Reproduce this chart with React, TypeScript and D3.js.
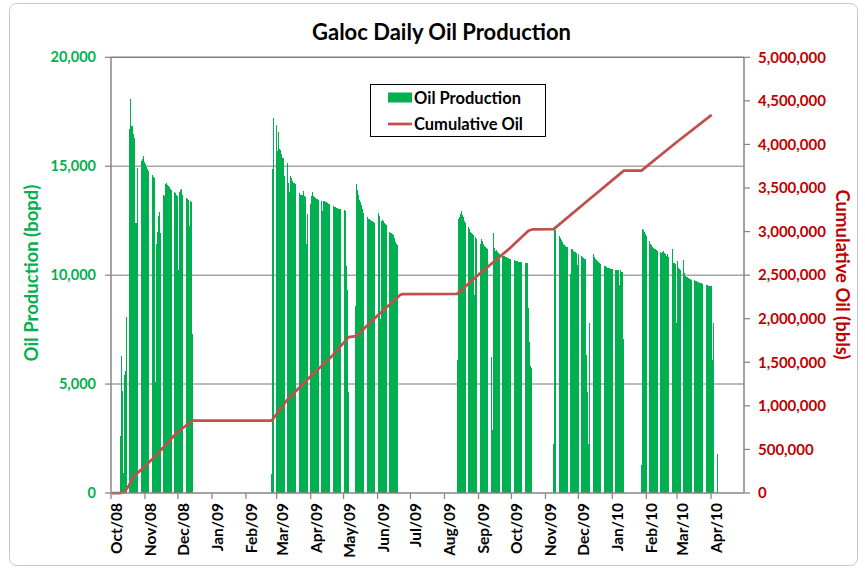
import React from "react";
import * as d3 from "d3";

// ---------- data ----------
const axisStart = "2008-10-01";
const axisEnd = "2010-05-01";

const leftTicks = [0, 5000, 10000, 15000, 20000];
const rightTicks = [0, 500000, 1000000, 1500000, 2000000, 2500000, 3000000, 3500000, 4000000, 4500000, 5000000];

// daily oil production (bopd), one value per day from each start date
const prodStarts = ["2008-10-09", "2009-02-24", "2009-05-11", "2009-08-12", "2009-11-08", "2010-01-27"];

const prodOct08 = [
  2600, 6300, 4700, 900, 5400, 5600, 8100, 3900, 16700, 18100, 16850, 16850, 16500, 16300, 12400, 12400,
  14900, 15000, 15150, 15250, 15350, 15450, 15200, 15100, 14950, 14850, 14800, 14700, 14650, 14600, 14500,
  14450, 5100, 11450, 12000, 12700, 12900, 11950, 13750, 13700, 13650, 14200, 14250, 14150, 14100, 14050,
  13950, 13900, 13850, 13800, 13750, 13700, 13650, 10250, 13800, 13900, 13950, 13700, 12500, 13650, 13550,
  13500, 13450, 12250, 13400, 13350, 7300,
];

const prodFeb09 = [
  860, 14850, 17200, 17000, 16900, 15700, 16550, 15800, 15750, 15550, 15400, 15400, 14550, 15150, 15150,
  14250, 13800, 14550, 14450, 14300, 14250, 14250, 14200, 13800, 13780, 13750, 13700, 13700, 13690, 13850,
  13650, 13600, 11450, 12800, 13850, 13250, 13650, 13800, 13650, 13600, 13550, 13500, 13480, 13450, 13480,
  13420, 12950, 13420, 13400, 13380, 13350, 13320, 13280, 13250, 13230, 13200, 13180, 13150, 13120, 13100,
  13060, 13050, 13030, 13020, 13000, 12980, 12970, 12950, 10400, 9300, 4650,
];

const prodMay09 = [
  8600, 14200, 13900, 13700, 13450, 13350, 13200, 13050, 12850, 12750, 12700, 12650, 12600, 12580, 12520,
  12500, 12480, 12450, 12400, 3600, 13150, 12850, 12700, 8000, 12500, 12550, 12500, 12400, 12350, 12300,
  11450, 12000, 11950, 11950, 11900, 11850, 11700, 11500, 11450, 11400, 700,
];

const prodAug09 = [
  6100, 12600, 12650, 12800, 12950, 12750, 12650, 12500, 12400, 12300, 12200, 12100, 12000, 11950, 11900,
  11850, 9100, 11750, 11680, 11600, 11100, 11450, 11650, 11550, 11450, 11350, 11300, 11250, 11200, 11180,
  11150, 6250, 2900, 11950, 11250, 11100, 11150, 11050, 11000, 10950, 10400, 10950, 10900, 10880, 10850,
  10820, 10800, 10780, 10750, 10720, 10700, 10690, 10680, 10670, 10650, 10640, 10620, 10610, 10600, 10590,
  10580, 10570, 10560, 10550, 10550, 8500, 6950, 5850, 5750,
];

const prodNov09 = [
  2250, 12100, 12050, 11950, 11850, 11780, 11700, 11600, 11500, 11450, 11400, 11350, 11300, 11280, 11250,
  10050, 11220, 11180, 11120, 11080, 11050, 11000, 10450, 10950, 10900, 10870, 10830, 10790, 10750, 10720,
  6350, 4650, 2250, 7800, 11350, 11100, 10950, 10850, 10720, 10680, 10650, 10600, 10560, 10500, 10480,
  10450, 10420, 10400, 10380, 10350, 10340, 10320, 10300, 10280, 10270, 10260, 10250, 10240, 10230, 10230,
  9570, 10230, 10150, 10150, 7050,
];

const prodJan10 = [
  1300, 12100, 12050, 11980, 11900, 11800, 11650, 11550, 11450, 11370, 11300, 11260, 11220, 11180, 11150,
  11100, 11070, 11040, 11000, 11070, 11100, 11020, 10950, 10900, 10950, 10850, 10840, 6600, 11200, 10570,
  10550, 10520, 7800, 10650, 10340, 10300, 10250, 3800, 10700, 10100, 9950, 9930, 9900, 9870, 9840, 9820,
  9800, 9780, 9760, 9740, 9720, 9700, 9680, 9660, 9640, 9620, 9600, 9580, 9560, 9540, 9530, 9520, 9510,
  9500, 9480, 6100, 7800, 5250, 3450, 1800,
];

const prodSeries = [prodOct08, prodFeb09, prodMay09, prodAug09, prodNov09, prodJan10];

// cumulative oil (bbls): breakpoints, day offset from axisStart
const cumDays = [0, 8, 12, 16, 20, 30, 38, 50, 60, 74, 146, 160, 181, 202, 216, 223, 242, 263, 265, 315, 336, 363, 380, 384, 403, 435, 467, 483, 515, 547];
const cumValues = [0, 0, 15000, 90000, 190000, 300000, 400000, 560000, 700000, 830000, 830000, 1067000, 1335000, 1584000, 1790000, 1800000, 2031000, 2272000, 2282000, 2285000, 2521000, 2808000, 3010000, 3026000, 3028000, 3365000, 3699000, 3700000, 4025000, 4340000];

// ---------- chart ----------
const W = 865;
const H = 569;
const M = { left: 111, right: 744, top: 57.3, bottom: 493 };
const FONT = "Lato, 'Open Sans', 'Noto Sans', sans-serif";
const GREEN = "#00B050";
const DARKRED = "#C00000";
const LINE = "#C0504D";

export default function App() {
  const parse = d3.utcParse("%Y-%m-%d");
  const t0 = parse(axisStart)!;
  const t1 = parse(axisEnd)!;
  const x = d3.scaleUtc().domain([t0, t1]).range([M.left, M.right]);
  const yL = d3.scaleLinear().domain([0, 20000]).range([M.bottom, M.top]);
  const yR = d3.scaleLinear().domain([0, 5000000]).range([M.bottom, M.top]);
  const months = d3.utcMonth.range(t0, t1);
  const fmt = d3.format(",");
  const monthFmt = d3.utcFormat("%b/%y");

  const bars: { x: number; w: number; y: number; h: number; key: string }[] = [];
  prodSeries.forEach((vals, si) => {
    const s = parse(prodStarts[si])!;
    vals.forEach((v, i) => {
      const d = d3.utcDay.offset(s, i);
      const xa = x(d);
      const xb = x(d3.utcDay.offset(d, 1));
      const slot = xb - xa;
      const bw = slot * 0.78;
      bars.push({ x: xa + (slot - bw) / 2, w: bw, y: yL(v), h: yL(0) - yL(v), key: `${si}-${i}` });
    });
  });

  const cumPts: [number, number][] = cumDays.map((d, i) => {
    const dt = d3.utcDay.offset(t0, d);
    const xa = x(dt);
    const slot = x(d3.utcDay.offset(dt, 1)) - xa;
    return [xa + slot / 2, yR(cumValues[i])];
  });
  const linePath = d3.line()(cumPts) || "";

  const gridVals = leftTicks.filter((v) => v > 0 && v < 20000);

  return (
    <svg width={W} height={H} style={{ display: "block", position: "absolute", left: 0, top: 0 }} fontFamily={FONT}>
      <rect x={0} y={0} width={W} height={H} fill="#fff" />
      <rect x={9.5} y={3.5} width={848} height={562} rx={7} fill="#fff" stroke="#c8c8c8" strokeWidth={1} />

      {/* title */}
      <text x={441.5} y={40} textAnchor="middle" fontSize={22} fontWeight="bold" fill="#000">
        Galoc Daily Oil Production
      </text>

      {/* gridlines */}
      {gridVals.map((v) => (
        <line key={v} x1={M.left} x2={M.right} y1={yL(v)} y2={yL(v)} stroke="#a6a6a6" strokeWidth={1.5} />
      ))}
      <line x1={M.left} x2={M.right} y1={M.top} y2={M.top} stroke="#7f7f7f" strokeWidth={1.5} />

      {/* bars */}
      <g shapeRendering="crispEdges" fill={GREEN}>
        {bars.map((b) => (
          <rect key={b.key} x={b.x} y={b.y} width={b.w} height={b.h} />
        ))}
      </g>

      {/* cumulative line */}
      <path d={linePath} fill="none" stroke={LINE} strokeWidth={2.75} strokeLinejoin="round" />

      {/* axes lines */}
      <line x1={M.left} x2={M.left} y1={M.top} y2={M.bottom} stroke="#868686" strokeWidth={1.5} />
      <line x1={M.right} x2={M.right} y1={M.top} y2={M.bottom} stroke="#868686" strokeWidth={1.5} />
      <line x1={M.left} x2={M.right} y1={M.bottom} y2={M.bottom} stroke="#868686" strokeWidth={1.5} />

      {/* left ticks */}
      {leftTicks.map((v) => (
        <g key={v}>
          <line x1={M.left - 6} x2={M.left} y1={yL(v)} y2={yL(v)} stroke="#868686" strokeWidth={1.25} />
          <text x={96} y={yL(v)} dy="0.35em" textAnchor="end" fontSize={14.5} fontWeight="bold" fill={GREEN}>
            {fmt(v)}
          </text>
        </g>
      ))}

      {/* right ticks */}
      {rightTicks.map((v) => (
        <g key={v}>
          <line x1={M.right} x2={M.right + 6} y1={yR(v)} y2={yR(v)} stroke="#868686" strokeWidth={1.25} />
          <text x={758} y={yR(v)} dy="0.35em" textAnchor="start" fontSize={15} fontWeight="bold" fill={DARKRED}>
            {fmt(v)}
          </text>
        </g>
      ))}

      {/* x ticks and labels */}
      {months.map((m) => {
        const xm = x(m);
        return (
          <g key={+m}>
            <line x1={xm} x2={xm} y1={M.bottom} y2={M.bottom + 6} stroke="#868686" strokeWidth={1.25} />
            <text
              transform={`translate(${xm + 5.5},503) rotate(-90)`}
              textAnchor="end"
              dy="0.35em"
              fontSize={15.5}
              fontWeight="bold"
              fill="#000"
            >
              {monthFmt(m)}
            </text>
          </g>
        );
      })}

      {/* axis titles */}
      <text transform="translate(32,273) rotate(-90)" textAnchor="middle" dy="0.35em" fontSize={18.5} fontWeight="bold" fill={GREEN}>
        Oil Production (bopd)
      </text>
      <text transform="translate(842,274.5) rotate(90)" textAnchor="middle" dy="0.35em" fontSize={18.5} fontWeight="bold" fill={DARKRED}>
        Cumulative Oil (bbls)
      </text>

      {/* legend */}
      <rect x={370.5} y={84.5} width={175} height={52} fill="#fff" stroke="#000" strokeWidth={1} />
      <rect x={388} y={92.5} width={24} height={10} fill={GREEN} />
      <text x={414} y={103.5} fontSize={16.5} fontWeight="bold" fill="#000">
        Oil Production
      </text>
      <line x1={388} x2={412} y1={124} y2={124} stroke={LINE} strokeWidth={2.75} />
      <text x={414} y={129.5} fontSize={16.5} fontWeight="bold" fill="#000">
        Cumulative Oil
      </text>
    </svg>
  );
}
